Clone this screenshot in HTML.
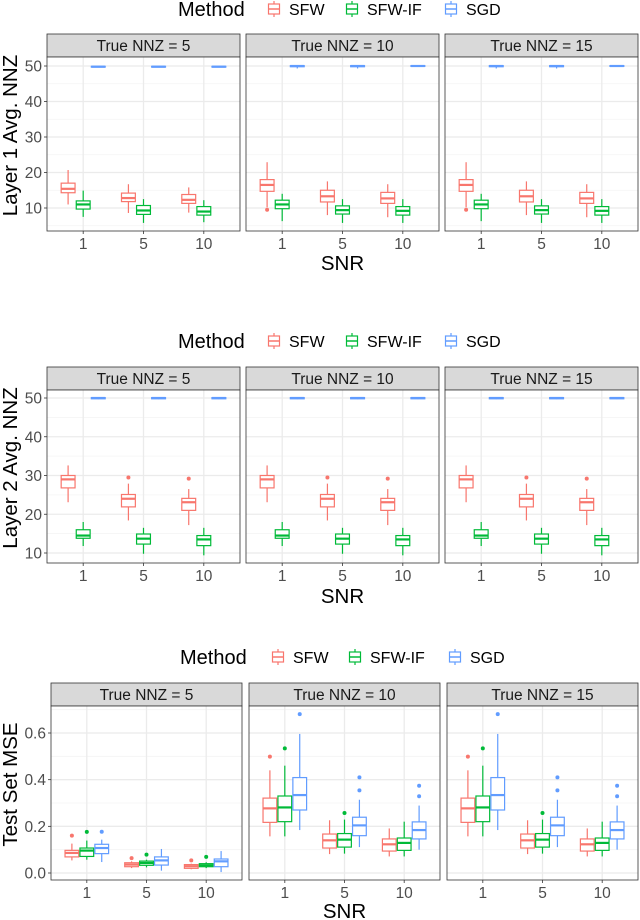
<!DOCTYPE html>
<html><head><meta charset="utf-8"><style>
html,body{margin:0;padding:0;background:#fff;}
svg{display:block;font-family:"Liberation Sans",Arial,sans-serif;}
</style></head><body>
<svg id="root" width="640" height="920" viewBox="0 0 640 920"></svg>
<script>
const categories = ['1','5','10'];
const methods = ['SFW','SFW-IF','SGD'];
const facets = ['True NNZ = 5','True NNZ = 10','True NNZ = 15'];
const colors = ['#F8766D','#00BA38','#619CFF'];
const ticks1 = [10,20,30,40,50];
const ticks2 = [10,20,30,40,50];
const ticks3 = [0.0,0.2,0.4,0.6];
const tickLabels3 = ['0.0','0.2','0.4','0.6'];

// [low, q1, median, q3, high] per SNR
const l1_n5_sfw = [[11,14.3,15.4,17,20.7],[8.6,11.8,12.8,14.2,16.7],[8.7,11.3,12.3,13.8,15.8]];
const l1_n5_if  = [[7.5,9.7,11,12,14.9],[5.8,8.2,9.3,10.7,12.5],[6,8,9,10.4,12.2]];
const l1_n5_sgd = [[49.7,49.7,49.8,49.9,49.9],[49.7,49.7,49.8,49.9,49.9],[49.7,49.7,49.8,49.9,49.9]];
const l1_n10_sfw = [[10.2,14.7,16.5,18,22.9],[8,11.7,13.3,15,17.5],[7.4,11.3,12.7,14.4,16.7]];
const l1_n10_if  = [[6.3,9.8,11,12.2,14],[5.8,8.3,9.4,10.6,12.5],[5.8,8,9.2,10.4,12.5]];
const l1_n10_sgd = [[49.3,49.8,50,50.1,50.1],[49.3,49.8,50,50.1,50.1],[49.8,49.9,50,50.1,50.1]];
const l1_n15_sfw = [[10.2,14.7,16.5,18,22.9],[8,11.7,13.3,15,17.5],[7.4,11.3,12.7,14.4,16.7]];
const l1_n15_if  = [[6.3,9.8,11,12.2,14],[5.8,8.3,9.4,10.6,12.5],[5.8,8,9.2,10.4,12.5]];
const l1_n15_sgd = [[49.3,49.8,50,50.1,50.1],[49.3,49.8,50,50.1,50.1],[49.8,49.9,50,50.1,50.1]];
const l1_n10_sfw_out = [[9.5],[],[]];
const l1_n15_sfw_out = [[9.5],[],[]];

const l2_n5_sfw = [[23.1,26.8,29,30,32.6],[18.4,21.9,24,25.1,27.9],[17.2,21,23.1,24.1,26.5]];
const l2_n5_if  = [[11.8,13.8,14.5,16,18],[9.8,12.3,13.7,14.9,16.5],[9.4,11.9,13.5,14.5,16.5]];
const l2_n5_sgd = [[49.7,49.8,50,50.1,50.2],[49.7,49.8,50,50.1,50.2],[49.7,49.8,50,50.1,50.2]];
const l2_n10_sfw = [[23.1,26.8,29,30,32.6],[18.4,21.9,24,25.1,27.9],[17.2,21,23.1,24.1,26.5]];
const l2_n10_if  = [[11.8,13.8,14.5,16,18],[9.8,12.3,13.7,14.9,16.5],[9.4,11.9,13.5,14.5,16.5]];
const l2_n10_sgd = [[49.7,49.8,50,50.1,50.2],[49.7,49.8,50,50.1,50.2],[49.7,49.8,50,50.1,50.2]];
const l2_n15_sfw = [[23.1,26.8,29,30,32.6],[18.4,21.9,24,25.1,27.9],[17.2,21,23.1,24.1,26.5]];
const l2_n15_if  = [[11.8,13.8,14.5,16,18],[9.8,12.3,13.7,14.9,16.5],[9.4,11.9,13.5,14.5,16.5]];
const l2_n15_sgd = [[49.7,49.8,50,50.1,50.2],[49.7,49.8,50,50.1,50.2],[49.7,49.8,50,50.1,50.2]];
const l2_sfw_out = [[],[29.5],[29.2]];

const m_n5_sfw = [[0.054,0.069,0.086,0.097,0.126],[0.021,0.027,0.036,0.044,0.05],[0.016,0.02,0.029,0.036,0.04]];
const m_n5_if  = [[0.057,0.071,0.096,0.107,0.139],[0.024,0.033,0.043,0.051,0.057],[0.021,0.027,0.033,0.04,0.046]];
const m_n5_sgd = [[0.047,0.083,0.107,0.123,0.143],[0.01,0.034,0.054,0.069,0.103],[0.004,0.027,0.05,0.06,0.094]];
const m_n5_sfw_out = [[0.16],[0.064],[0.054]];
const m_n5_if_out  = [[0.176],[0.079],[0.069]];
const m_n5_sgd_out = [[0.177],[],[]];
const m_n10_sfw = [[0.157,0.217,0.277,0.321,0.44],[0.081,0.107,0.14,0.167,0.226],[0.071,0.094,0.123,0.146,0.191]];
const m_n10_if  = [[0.157,0.22,0.281,0.33,0.46],[0.083,0.111,0.143,0.169,0.229],[0.071,0.097,0.129,0.15,0.22]];
const m_n10_sgd = [[0.184,0.27,0.334,0.409,0.596],[0.111,0.16,0.204,0.239,0.314],[0.1,0.146,0.184,0.219,0.289]];
const m_n10_sfw_out = [[0.499],[],[]];
const m_n10_if_out  = [[0.534],[0.257],[]];
const m_n10_sgd_out = [[0.681],[0.41,0.354],[0.374,0.329]];
const m_n15_sfw = [[0.157,0.217,0.277,0.321,0.44],[0.081,0.107,0.14,0.167,0.226],[0.071,0.094,0.123,0.146,0.191]];
const m_n15_if  = [[0.157,0.22,0.281,0.33,0.46],[0.083,0.111,0.143,0.169,0.229],[0.071,0.097,0.129,0.15,0.22]];
const m_n15_sgd = [[0.184,0.27,0.334,0.409,0.596],[0.111,0.16,0.204,0.239,0.314],[0.1,0.146,0.184,0.219,0.289]];
const m_n15_sfw_out = [[0.499],[],[]];
const m_n15_if_out  = [[0.534],[0.257],[]];
const m_n15_sgd_out = [[0.681],[0.41,0.354],[0.374,0.329]];

const NS = 'http://www.w3.org/2000/svg';
const root = document.getElementById('root');
function mk(tag, attrs, parent, text){
  const e = document.createElementNS(NS, tag);
  for (const k in attrs) e.setAttribute(k, attrs[k]);
  if (text !== undefined) e.textContent = text;
  (parent||root).appendChild(e);
  return e;
}

function drawChart(cfg){
  const g = mk('g', {});
  
  
  // legend
  const lg = mk('g', {}, g);
  
  
  const lt = mk('text', {x: cfg.legX, y: cfg.legY + 7, 'font-size': 20, fill: '#000'}, lg, 'Method');
  
  
  methods.forEach((m, j) => {
    const kx = cfg.keyX[j];
    const ke = mk('g', {}, lg);
    
    
    mk('line', {x1: kx, x2: kx, y1: cfg.legY - 8, y2: cfg.legY + 8, stroke: colors[j], 'stroke-width': 1.2}, ke);
    mk('rect', {x: kx - 5.5, y: cfg.legY - 5, width: 11, height: 10, fill: '#fff', stroke: colors[j], 'stroke-width': 1.2}, ke);
    mk('line', {x1: kx - 5.5, x2: kx + 5.5, y1: cfg.legY, y2: cfg.legY, stroke: colors[j], 'stroke-width': 1.5}, ke);
    mk('text', {x: kx + 15, y: cfg.legY + 6, 'font-size': 16, fill: '#000'}, ke, m);
  });
  const yS = v => cfg.y0 + (v - cfg.v0) * (cfg.y1 - cfg.y0) / (cfg.v1 - cfg.v0);
  const minorTicks = [];
  for (let i = 0; i < cfg.ticks.length; i++) {
    minorTicks.push(cfg.ticks[i] - cfg.step / 2);
  }
  minorTicks.push(cfg.ticks[cfg.ticks.length - 1] + cfg.step / 2);

  cfg.panels.forEach((px, p) => {
    const pw = cfg.panelW;
    const unit = pw / 3.2;
    const xC = i => px + (i + 0.6) * unit;
    const pg = mk('g', {}, g);
    
    
    // strip
    const st = mk('rect', {x: px, y: cfg.stripTop, width: pw, height: cfg.plotTop - cfg.stripTop, fill: '#D9D9D9', stroke: '#333', 'stroke-width': 0.8}, pg);
    
    
    mk('text', {x: px + pw / 2, y: (cfg.stripTop + cfg.plotTop) / 2 + 5.5, 'font-size': 15.5, fill: '#1A1A1A', 'text-anchor': 'middle'}, pg, facets[p]);
    // background & grid
    mk('rect', {x: px, y: cfg.plotTop, width: pw, height: cfg.plotBot - cfg.plotTop, fill: '#fff'}, pg);
    minorTicks.forEach(v => {
      const yy = yS(v);
      if (yy > cfg.plotTop && yy < cfg.plotBot) mk('line', {x1: px, x2: px + pw, y1: yy, y2: yy, stroke: '#F4F4F4', 'stroke-width': 0.8}, pg);
    });
    cfg.ticks.forEach(v => {
      mk('line', {x1: px, x2: px + pw, y1: yS(v), y2: yS(v), stroke: '#EBEBEB', 'stroke-width': 1.3}, pg);
    });
    categories.forEach((c, i) => {
      mk('line', {x1: xC(i), x2: xC(i), y1: cfg.plotTop, y2: cfg.plotBot, stroke: '#EBEBEB', 'stroke-width': 1.3}, pg);
      mk('line', {x1: xC(i), x2: xC(i), y1: cfg.plotBot, y2: cfg.plotBot + 3, stroke: '#333', 'stroke-width': 0.8}, pg);
      const tl = mk('text', {x: xC(i), y: cfg.plotBot + 18, 'font-size': 15.5, fill: '#4D4D4D', 'text-anchor': 'middle'}, pg, c);
      
      
    });
    // boxes
    const series = cfg.data[p];
    const outs = cfg.outs[p];
    series.forEach((arr, j) => {
      arr.forEach((s, i) => {
        const cx = xC(i) + (j - 1) * 0.25 * unit;
        const bw = 0.25 * unit * 0.92;
        const bg = mk('g', {}, pg);
        
        
        mk('line', {x1: cx, x2: cx, y1: yS(s[4]), y2: yS(s[3]), stroke: colors[j], 'stroke-width': 1.2}, bg);
        mk('line', {x1: cx, x2: cx, y1: yS(s[1]), y2: yS(s[0]), stroke: colors[j], 'stroke-width': 1.2}, bg);
        mk('rect', {x: cx - bw / 2, y: yS(s[3]), width: bw, height: Math.max(0.5, yS(s[1]) - yS(s[3])), fill: '#fff', stroke: colors[j], 'stroke-width': 1.2}, bg);
        mk('line', {x1: cx - bw / 2, x2: cx + bw / 2, y1: yS(s[2]), y2: yS(s[2]), stroke: colors[j], 'stroke-width': 2.2}, bg);
        if (outs && outs[j]) {
          outs[j][i].forEach(o => {
            const pt = mk('circle', {cx: cx, cy: yS(o), r: 2, fill: colors[j]}, bg);
            
            
          });
        }
      });
    });
    const pb = mk('rect', {x: px, y: cfg.plotTop, width: pw, height: cfg.plotBot - cfg.plotTop, fill: 'none', stroke: '#333', 'stroke-width': 0.8}, pg);
    
    
  });
  // y axis
  const px0 = cfg.panels[0];
  cfg.ticks.forEach((v, k) => {
    mk('line', {x1: px0 - 3, x2: px0, y1: yS(v), y2: yS(v), stroke: '#333', 'stroke-width': 0.8}, g);
    const tl = mk('text', {x: px0 - 5, y: yS(v) + 5.5, 'font-size': 15.5, fill: '#4D4D4D', 'text-anchor': 'end'}, g, cfg.tickLabels[k]);
    
    
  });
  const cy = (cfg.stripTop + cfg.plotBot) / 2 + 3;
  const yt = mk('text', {x: 0, y: 0, 'font-size': 20.5, fill: '#000', 'text-anchor': 'middle', transform: 'translate(' + cfg.yTitleX + ',' + cy + ') rotate(-90)'}, g, cfg.yTitle);
  
  
  const xt = mk('text', {x: (cfg.panels[0] + cfg.panels[2] + cfg.panelW) / 2, y: cfg.xTitleY, 'font-size': 20.5, fill: '#000', 'text-anchor': 'middle'}, g, 'SNR');
  
  
}

drawChart({name: 'layer1-chart', legX: 178, legY: 9, keyX: [274, 352, 451],
  panels: [47, 246, 445], panelW: 193, stripTop: 34, plotTop: 57, plotBot: 231,
  v0: 10, y0: 208, v1: 50, y1: 66, ticks: ticks1, tickLabels: ticks1.map(String), step: 10,
  yTitle: 'Layer 1 Avg. NNZ', yTitleX: 17, xTitleY: 270,
  data: [[l1_n5_sfw, l1_n5_if, l1_n5_sgd], [l1_n10_sfw, l1_n10_if, l1_n10_sgd], [l1_n15_sfw, l1_n15_if, l1_n15_sgd]],
  outs: [null, [l1_n10_sfw_out, [[],[],[]], [[],[],[]]], [l1_n15_sfw_out, [[],[],[]], [[],[],[]]]]});

drawChart({name: 'layer2-chart', legX: 178, legY: 341, keyX: [274, 352, 451],
  panels: [47, 246, 445], panelW: 193, stripTop: 367, plotTop: 390, plotBot: 563,
  v0: 10, y0: 553, v1: 50, y1: 398, ticks: ticks2, tickLabels: ticks2.map(String), step: 10,
  yTitle: 'Layer 2 Avg. NNZ', yTitleX: 17, xTitleY: 603,
  data: [[l2_n5_sfw, l2_n5_if, l2_n5_sgd], [l2_n10_sfw, l2_n10_if, l2_n10_sgd], [l2_n15_sfw, l2_n15_if, l2_n15_sgd]],
  outs: [[l2_sfw_out, [[],[],[]], [[],[],[]]], [l2_sfw_out, [[],[],[]], [[],[],[]]], [l2_sfw_out, [[],[],[]], [[],[],[]]]]});

drawChart({name: 'mse-chart', legX: 180, legY: 657, keyX: [278, 355, 455],
  panels: [51, 249, 447], panelW: 191, stripTop: 683, plotTop: 706, plotBot: 880,
  v0: 0, y0: 873, v1: 0.6, y1: 733, ticks: ticks3, tickLabels: tickLabels3, step: 0.2,
  yTitle: 'Test Set MSE', yTitleX: 17, xTitleY: 918,
  data: [[m_n5_sfw, m_n5_if, m_n5_sgd], [m_n10_sfw, m_n10_if, m_n10_sgd], [m_n15_sfw, m_n15_if, m_n15_sgd]],
  outs: [[m_n5_sfw_out, m_n5_if_out, m_n5_sgd_out], [m_n10_sfw_out, m_n10_if_out, m_n10_sgd_out], [m_n15_sfw_out, m_n15_if_out, m_n15_sgd_out]]});
</script>
</body></html>
